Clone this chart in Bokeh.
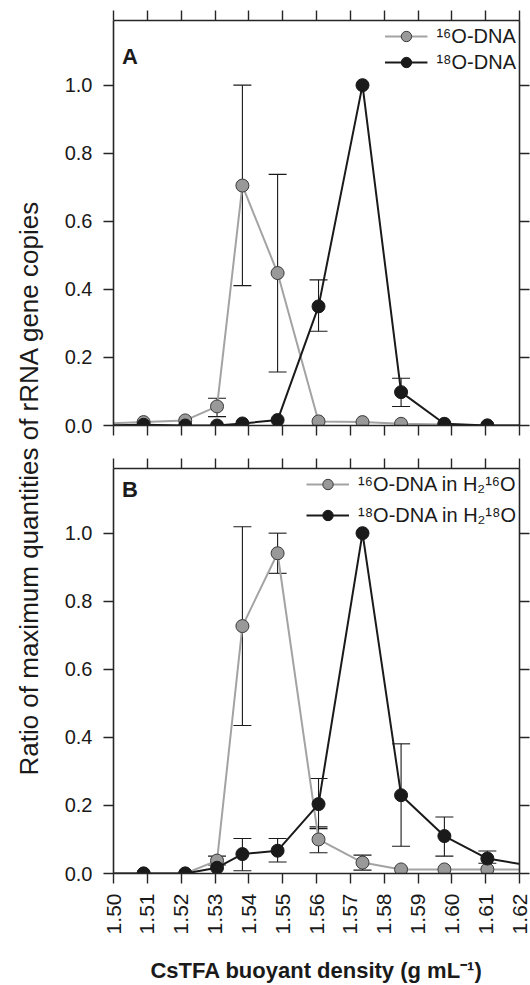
import math
from bokeh.plotting import figure
from bokeh.models import (LinearAxis, FixedTicker, PrintfTickFormatter, Whisker, TeeHead,
                          ColumnDataSource, Legend, LegendItem, Label, Range1d)
from bokeh.layouts import row, column
from bokeh.embed import file_html
from bokeh.resources import INLINE

# ---------------- data ----------------
density = [1.4965, 1.5089, 1.5212, 1.5306, 1.5381, 1.5485, 1.5606, 1.5736, 1.5850, 1.5978, 1.6105, 1.6230]

# Panel A
a_o16 = [0.005, 0.010, 0.015, 0.056, 0.705, 0.448, 0.012, 0.010, 0.005, 0.003, 0.000, 0.000]
a_o18 = [0.000, 0.002, 0.000, 0.000, 0.006, 0.016, 0.350, 1.000, 0.098, 0.005, 0.000, 0.000]
a_o16_err_x = [1.5306, 1.5381, 1.5485]
a_o16_err_lo = [0.026, 0.411, 0.157]
a_o16_err_hi = [0.080, 1.000, 0.738]
a_o18_err_x = [1.5606, 1.5850]
a_o18_err_lo = [0.277, 0.056]
a_o18_err_hi = [0.428, 0.139]

# Panel B
b_o16 = [0.000, 0.000, 0.000, 0.038, 0.727, 0.941, 0.100, 0.032, 0.012, 0.012, 0.012, 0.012]
b_o18 = [0.000, 0.000, 0.000, 0.017, 0.057, 0.067, 0.204, 1.000, 0.230, 0.110, 0.044, 0.023]
b_o16_err_x = [1.5306, 1.5381, 1.5485, 1.5606, 1.5736]
b_o16_err_lo = [0.025, 0.435, 0.882, 0.061, 0.010]
b_o16_err_hi = [0.051, 1.019, 1.000, 0.137, 0.054]
b_o18_err_x = [1.5381, 1.5485, 1.5606, 1.5850, 1.5978, 1.6105]
b_o18_err_lo = [0.008, 0.034, 0.132, 0.080, 0.051, 0.030]
b_o18_err_hi = [0.103, 0.103, 0.279, 0.381, 0.166, 0.066]

x_ticks = [1.50, 1.51, 1.52, 1.53, 1.54, 1.55, 1.56, 1.57, 1.58, 1.59, 1.60, 1.61, 1.62]
y_ticks = [0.0, 0.2, 0.4, 0.6, 0.8, 1.0]

labels_a = ["\u00b9\u2076O-DNA", "\u00b9\u2078O-DNA"]
labels_b = ["\u00b9\u2076O-DNA in H\u2082\u00b9\u2076O", "\u00b9\u2078O-DNA in H\u2082\u00b9\u2078O"]
y_title = "Ratio of maximum quantities of rRNA gene copies"
x_title = "CsTFA buoyant density (g mL\u207b\u00b9)"

# ---------------- style ----------------
FONT = "Liberation Sans"
INK = "#1a1a1a"
AXIS = "#262626"
GREY_FILL = "#999999"
GREY_LINE = "#a3a3a3"
GREY_EDGE = "#3a3a3a"


def labeled_axis(ticks, fmt, size):
    ax = LinearAxis(ticker=FixedTicker(ticks=ticks), formatter=PrintfTickFormatter(format=fmt))
    ax.axis_line_color = AXIS
    ax.axis_line_width = 1.6
    ax.major_tick_line_color = AXIS
    ax.major_tick_line_width = 1.4
    ax.major_tick_out = 10
    ax.major_tick_in = 0
    ax.minor_tick_out = 0
    ax.minor_tick_in = 0
    ax.major_label_text_font = FONT
    ax.major_label_text_color = INK
    ax.major_label_text_font_size = size
    ax.major_label_standoff = 11
    return ax


def tick_only_axis(ticks):
    # ticks drawn as minor ticks so that no tick labels are produced
    ax = LinearAxis(ticker=FixedTicker(ticks=[], minor_ticks=ticks))
    ax.axis_line_color = AXIS
    ax.axis_line_width = 1.6
    ax.minor_tick_line_color = AXIS
    ax.minor_tick_line_width = 1.4
    ax.minor_tick_out = 10
    ax.minor_tick_in = 0
    ax.major_tick_out = 0
    ax.major_tick_in = 0
    return ax


def make_panel(letter, letter_y, g_vals, g_ex, g_lo, g_hi, k_vals, k_ex, k_lo, k_hi,
               labels, bottom, top_border, bottom_border, leg_spacing):
    p = figure(frame_width=406, frame_height=405,
               x_range=Range1d(1.50, 1.62), y_range=Range1d(0.0, 1.19),
               output_backend="svg", toolbar_location=None,
               x_axis_location=None, y_axis_location=None,
               min_border_left=65, min_border_right=11,
               min_border_top=top_border, min_border_bottom=bottom_border)
    p.outline_line_color = None
    p.background_fill_color = "white"
    p.border_fill_color = "white"
    p.xgrid.visible = False
    p.ygrid.visible = False

    p.add_layout(labeled_axis(y_ticks, "%.1f", "20px"), "left")
    p.add_layout(tick_only_axis(y_ticks), "right")
    p.add_layout(tick_only_axis(x_ticks), "above")
    if bottom:
        below = labeled_axis(x_ticks, "%.2f", "21px")
        below.major_label_orientation = math.pi / 2
        below.major_label_standoff = 10
        below.axis_label = x_title
        below.axis_label_text_font = FONT
        below.axis_label_text_font_style = "bold"
        below.axis_label_text_font_size = "22px"
        below.axis_label_text_color = INK
        below.axis_label_standoff = 21
    else:
        below = tick_only_axis(x_ticks)
    p.add_layout(below, "below")

    # error bars
    for ex, lo, hi in ((g_ex, g_lo, g_hi), (k_ex, k_lo, k_hi)):
        src = ColumnDataSource(dict(x=ex, lower=lo, upper=hi))
        w = Whisker(source=src, base="x", lower="lower", upper="upper", dimension="height",
                    line_color=INK, line_width=1.1,
                    upper_head=TeeHead(size=18, line_color=INK, line_width=1.1),
                    lower_head=TeeHead(size=18, line_color=INK, line_width=1.1))
        p.add_layout(w)

    gl = p.line(density, g_vals, line_color=GREY_LINE, line_width=2)
    kl = p.line(density, k_vals, line_color=INK, line_width=2)
    gs = p.scatter(density, g_vals, marker="circle", size=13, fill_color=GREY_FILL,
                   line_color=GREY_EDGE, line_width=1)
    ks = p.scatter(density, k_vals, marker="circle", size=13, fill_color=INK,
                   line_color=INK, line_width=1)

    legend = Legend(items=[LegendItem(label=labels[0], renderers=[gl, gs]),
                           LegendItem(label=labels[1], renderers=[kl, ks])],
                    location="top_right", orientation="vertical",
                    border_line_color=None, background_fill_alpha=0,
                    glyph_width=43, glyph_height=26, label_height=26,
                    label_standoff=9, spacing=leg_spacing, margin=3, padding=3,
                    label_text_font=FONT, label_text_font_size="20px", label_text_color=INK)
    p.add_layout(legend)

    p.add_layout(Label(x=1.5025, y=letter_y, text=letter, text_font=FONT, text_font_style="bold",
                       text_font_size="22px", text_color=INK, text_baseline="middle",
                       text_align="left"))
    return p


pa = make_panel("A", 1.083, a_o16, a_o16_err_x, a_o16_err_lo, a_o16_err_hi,
                a_o18, a_o18_err_x, a_o18_err_lo, a_o18_err_hi,
                labels_a, False, 20, 20, 0)
pb = make_panel("B", 1.127, b_o16, b_o16_err_x, b_o16_err_lo, b_o16_err_hi,
                b_o18, b_o18_err_x, b_o18_err_lo, b_o18_err_hi,
                labels_b, True, 23, 112, 5)

TOTAL_H = 985
t = figure(width=48, height=TOTAL_H, x_range=Range1d(0, 48), y_range=Range1d(0, TOTAL_H),
           output_backend="svg", toolbar_location=None,
           x_axis_location=None, y_axis_location=None, min_border=0)
t.outline_line_color = None
t.xgrid.visible = False
t.ygrid.visible = False
t.add_layout(Label(x=28, y=TOTAL_H - 487.5, text=y_title, angle=math.pi / 2,
                   text_align="center", text_baseline="middle", text_font=FONT,
                   text_font_size="26px", text_color=INK))

layout = row(t, column(pa, pb))

with open("out.html", "w") as f:
    f.write(file_html(layout, INLINE))
